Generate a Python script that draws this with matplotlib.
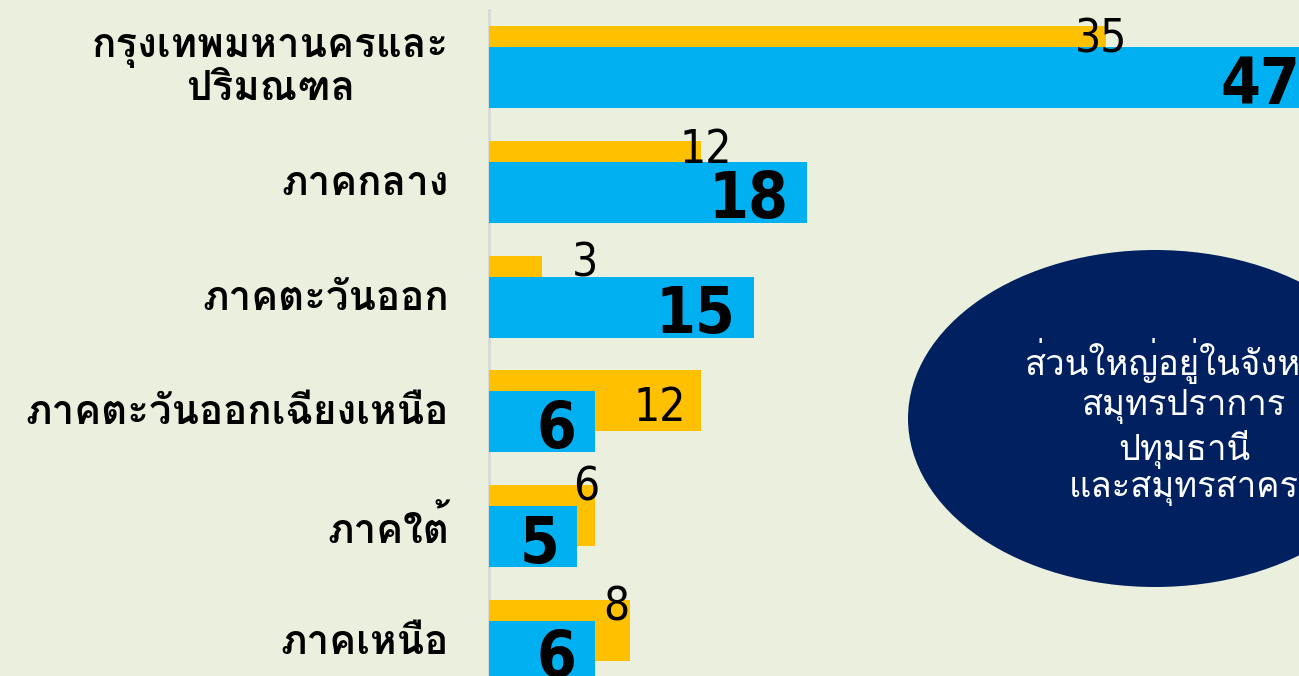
import numpy as np
import matplotlib
matplotlib.use("Agg")
import matplotlib.pyplot as plt
from matplotlib import font_manager
from matplotlib.ft2font import FT2Font
from matplotlib.patches import Ellipse

# data
categories = ['กรุงเทพมหานครและ\nปริมณฑล', 'ภาคกลาง', 'ภาคตะวันออก',
              'ภาคตะวันออกเฉียงเหนือ', 'ภาคใต้', 'ภาคเหนือ']
yellow_vals = [35, 12, 3, 12, 6, 8]
blue_vals = [47, 18, 15, 6, 5, 6]
note_lines = ['ส่วนใหญ่อยู่ในจังหวัด', 'สมุทรปราการ', 'ปทุมธานี', 'และสมุทรสาคร']

# label nudges (pixels) for the yellow numbers, as in the slide
yl_dx = [-5, 5, 43, -41, -9, -14]
yl_dy = [26, 22, 21, 51, 15, 20]

bg = '#EBF0DE'
c_yellow = '#FFC000'
c_blue = '#00B0F0'
c_navy = '#002060'

# find fonts that have thai glyphs (looped ones first, like Tahoma)
prefer = ['Tahoma', 'Leelawadee UI', 'Leelawadee', 'Loma', 'Garuda', 'Waree', 'Umpush',
          'Noto Sans Thai Looped', 'Sarabun', 'Kinnari', 'Norasi', 'Laksaman',
          'Noto Sans Thai', 'Noto Sans Thai UI']
thai_w = {}
for f in font_manager.fontManager.ttflist:
    try:
        cmap = FT2Font(f.fname).get_charmap()
    except Exception:
        continue
    if 0x0E01 in cmap:
        w = f.weight if isinstance(f.weight, int) else 400
        thai_w.setdefault(f.name, set()).add(w)
order = [p for p in prefer if p in thai_w] + [n for n in thai_w if n not in prefer]
thai = order[0] if order else 'DejaVu Sans'
thai_bold = thai
for n in order:
    if max(thai_w[n]) >= 600:
        thai_bold = n
        break
fam_reg = [thai, 'DejaVu Sans']
fam_bold = [thai_bold, 'DejaVu Sans']

W, H = 1299, 676
fig = plt.figure(figsize=(W / 100, H / 100), dpi=100)
fig.patch.set_facecolor(bg)

ax = fig.add_axes([489 / W, 0, (W - 489) / W, (H - 10) / H])
ax.set_facecolor(bg)
ax.set_xlim(0, (W - 489) / 17.64)
ax.set_ylim(5.305, -0.4965)

y = np.arange(len(categories))
hgt = 0.53
off = 0.0915
ax.barh(y - off, yellow_vals, height=hgt, color=c_yellow, zorder=2)
ax.barh(y + off, blue_vals, height=hgt, color=c_blue, zorder=3)

for s in ['top', 'right', 'bottom']:
    ax.spines[s].set_visible(False)
ax.spines['left'].set_color('#D9D9D9')
ax.spines['left'].set_linewidth(2)
ax.spines['left'].set_zorder(1)
ax.set_xticks([])
ax.set_yticks([])

# category labels
for i, cat in enumerate(categories):
    ax.annotate(cat, xy=(0, i), xytext=(-40, -3), textcoords='offset pixels',
                ha='right', va='center', multialignment='center',
                fontsize=29, fontweight='bold', family=fam_bold,
                linespacing=1.12, annotation_clip=False)

# blue values, bold, inside the bar end
for i, v in enumerate(blue_vals):
    ax.annotate(str(v), xy=(v, i + off), xytext=(-18, -26), textcoords='offset pixels',
                ha='right', va='baseline', fontsize=46, fontweight='bold',
                family='DejaVu Sans', fontstretch='condensed', zorder=5,
                annotation_clip=False)

# yellow values
for i, v in enumerate(yellow_vals):
    ax.annotate(str(v), xy=(v, i - off - hgt / 2), xytext=(yl_dx[i], -yl_dy[i]),
                textcoords='offset pixels', ha='center', va='baseline',
                fontsize=33, family='DejaVu Sans', fontstretch='condensed',
                zorder=5, annotation_clip=False)

# navy ellipse with note
ell = Ellipse((1155 / W, 1 - 418.5 / H), 494 / W, 337 / H, transform=fig.transFigure,
              facecolor=c_navy, edgecolor='none', zorder=10)
fig.patches.append(ell)
fig.text(1184 / W, 1 - 422 / H, '\n'.join(note_lines), ha='center', va='center',
         multialignment='center', color='white', fontsize=25, family=fam_reg,
         linespacing=1.2, zorder=11)

fig.savefig('out.png', dpi=100, facecolor=bg)
